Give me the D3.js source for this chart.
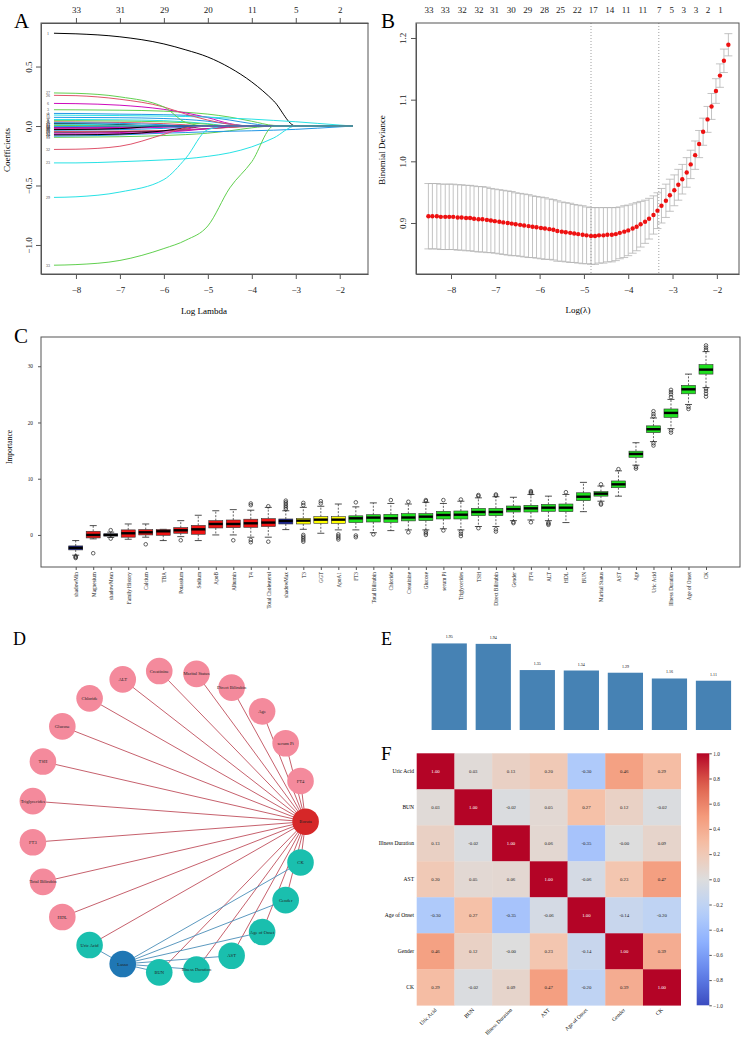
<!DOCTYPE html>
<html>
<head>
<meta charset="utf-8">
<script src="https://cdn.jsdelivr.net/npm/d3@7"></script>
<style>
  body { margin: 0; background: #fff; }
  svg { display: block; font-family: "Liberation Serif", "DejaVu Serif", serif; }
</style>
</head>
<body>
<svg id="fig" width="744" height="1039"></svg>
<script>
// ---------- A: lasso coefficient paths ----------
var pathLambda = [-8.5, -8, -7, -6, -5.5, -5, -4.5, -4, -3.5, -3, -2.5, -2, -1.7];
var pathVars = [1, 2, 3, 4, 5, 6, 7, 8, 9, 10, 11, 12, 13, 14, 15, 16, 17,
                18, 19, 20, 21, 22, 23, 24, 25, 26, 27, 28, 29, 30, 31, 32, 33, 34];
var pathCoefs = [
  [0.78, 0.775, 0.75, 0.69, 0.64, 0.58, 0.49, 0.37, 0.21, 0, 0, 0, 0],
  [0.035, 0.034, 0.03, 0.02, 0.01, 0, 0, 0, 0, 0, 0, 0, 0],
  [0.137, 0.136, 0.133, 0.125, 0.115, 0.10, 0.075, 0.04, 0.005, 0, 0, 0, 0],
  [0.106, 0.105, 0.10, 0.095, 0.09, 0.075, 0.05, 0.02, 0, 0, 0, 0, 0],
  [0.055, 0.055, 0.052, 0.045, 0.035, 0.02, 0, 0, 0, 0, 0, 0, 0],
  [0.19, 0.188, 0.175, 0.14, 0.11, 0.07, 0.02, 0, 0, 0, 0, 0, 0],
  [0.02, 0.019, 0.012, 0, 0, 0, 0, 0, 0, 0, 0, 0, 0],
  [-0.02, -0.019, -0.015, -0.006, 0, 0, 0, 0, 0, 0, 0, 0, 0],
  [0.045, 0.045, 0.042, 0.035, 0.028, 0.015, 0, 0, 0, 0, 0, 0, 0],
  [0.073, 0.072, 0.07, 0.063, 0.055, 0.04, 0.015, 0, 0, 0, 0, 0, 0],
  [0.092, 0.09, 0.088, 0.083, 0.08, 0.075, 0.066, 0.058, 0.047, 0.036, 0.022, 0.008, 0],
  [-0.06, -0.059, -0.055, -0.04, -0.025, 0, 0, 0, 0, 0, 0, 0, 0],
  [-0.01, -0.01, -0.004, 0, 0, 0, 0, 0, 0, 0, 0, 0, 0],
  [0.01, 0.009, 0, 0, 0, 0, 0, 0, 0, 0, 0, 0, 0],
  [-0.095, -0.094, -0.09, -0.08, -0.072, -0.06, -0.04, -0.015, 0, 0, 0, 0, 0],
  [-0.085, -0.083, -0.075, -0.06, -0.055, -0.048, -0.044, -0.04, -0.035, -0.028, -0.018, -0.007, 0],
  [0.015, 0.014, 0.008, 0, 0, 0, 0, 0, 0, 0, 0, 0, 0],
  [-0.015, -0.015, -0.012, -0.005, 0, 0, 0, 0, 0, 0, 0, 0, 0],
  [-0.05, -0.05, -0.047, -0.04, -0.033, -0.022, -0.01, 0, 0, 0, 0, 0, 0],
  [-0.045, -0.045, -0.043, -0.038, -0.032, -0.022, -0.012, -0.003, 0, 0, 0, 0, 0],
  [0.005, 0.004, 0, 0, 0, 0, 0, 0, 0, 0, 0, 0, 0],
  [-0.035, -0.034, -0.03, -0.02, -0.01, 0, 0, 0, 0, 0, 0, 0, 0],
  [-0.31, -0.31, -0.30, -0.285, -0.275, -0.255, -0.225, -0.175, -0.10, 0, 0, 0, 0],
  [-0.07, -0.069, -0.065, -0.052, -0.04, -0.022, -0.005, 0, 0, 0, 0, 0, 0],
  [-0.075, -0.074, -0.068, -0.04, -0.015, 0, 0, 0, 0, 0, 0, 0, 0],
  [0.258, 0.255, 0.225, 0.16, 0.10, 0.05, 0.015, 0, 0, 0, 0, 0, 0],
  [0.278, 0.275, 0.245, 0.16, 0.03, 0, 0, 0, 0, 0, 0, 0, 0],
  [0.028, 0.027, 0.022, 0.01, 0, 0, 0, 0, 0, 0, 0, 0, 0],
  [-0.60, -0.595, -0.555, -0.45, -0.27, -0.03, 0, 0, 0, 0, 0, 0, 0],
  [-0.025, -0.025, -0.02, -0.01, -0.004, 0, 0, 0, 0, 0, 0, 0, 0],
  [-0.03, -0.029, -0.022, 0, 0, 0, 0, 0, 0, 0, 0, 0, 0],
  [-0.197, -0.195, -0.17, -0.07, -0.015, 0, 0, 0, 0, 0, 0, 0, 0],
  [-1.17, -1.165, -1.13, -1.03, -0.96, -0.84, -0.52, -0.30, 0, 0, 0, 0, 0],
  [-0.005, -0.004, 0, 0, 0, 0, 0, 0, 0, 0, 0, 0, 0]
];
var dfTicks = [-8, -7, -6, -5, -4, -3, -2];
var dfLabels = [33, 31, 29, 20, 11, 5, 2];

// ---------- B: cross-validation curve ----------
var cvLambda = [-8.51, -8.42, -8.32, -8.23, -8.13, -8.04, -7.95, -7.85, -7.76, -7.66,
  -7.57, -7.48, -7.38, -7.29, -7.19, -7.10, -7.01, -6.91, -6.82, -6.72,
  -6.63, -6.54, -6.44, -6.35, -6.25, -6.16, -6.07, -5.97, -5.88, -5.78,
  -5.69, -5.60, -5.50, -5.41, -5.31, -5.22, -5.13, -5.03, -4.94, -4.84,
  -4.75, -4.66, -4.56, -4.47, -4.37, -4.28, -4.19, -4.09, -4.00, -3.90,
  -3.81, -3.72, -3.62, -3.53, -3.43, -3.34, -3.25, -3.15, -3.06, -2.96,
  -2.87, -2.78, -2.68, -2.59, -2.49, -2.40, -2.31, -2.21, -2.12, -2.02,
  -1.93, -1.84, -1.74];
var cvMean = [0.911, 0.911, 0.911, 0.910, 0.910, 0.910, 0.910, 0.909, 0.909, 0.908,
  0.908, 0.907, 0.906, 0.906, 0.905, 0.904, 0.903, 0.902, 0.901, 0.900,
  0.899, 0.898, 0.897, 0.896, 0.895, 0.894, 0.893, 0.892, 0.891, 0.890,
  0.889, 0.887, 0.886, 0.885, 0.884, 0.883, 0.882, 0.881, 0.880, 0.879,
  0.879, 0.880, 0.880, 0.881, 0.881, 0.882, 0.884, 0.886, 0.888, 0.891,
  0.894, 0.898, 0.902, 0.907, 0.913, 0.920, 0.928, 0.936, 0.945, 0.953,
  0.962, 0.971, 0.982, 0.995, 1.010, 1.028, 1.048, 1.068, 1.089, 1.114,
  1.139, 1.163, 1.189];
var cvSd = [0.053, 0.053, 0.053, 0.053, 0.053, 0.053, 0.053, 0.053, 0.053, 0.053,
  0.053, 0.053, 0.053, 0.053, 0.053, 0.052, 0.052, 0.052, 0.052, 0.052,
  0.052, 0.051, 0.051, 0.051, 0.051, 0.050, 0.050, 0.050, 0.050, 0.049,
  0.049, 0.049, 0.048, 0.048, 0.048, 0.047, 0.047, 0.047, 0.046, 0.046,
  0.046, 0.045, 0.045, 0.044, 0.044, 0.043, 0.042, 0.042, 0.041, 0.040,
  0.039, 0.037, 0.035, 0.033, 0.031, 0.029, 0.028, 0.027, 0.026, 0.025,
  0.025, 0.024, 0.024, 0.023, 0.023, 0.022, 0.022, 0.021, 0.021, 0.020,
  0.019, 0.019, 0.018];
var nzeroAt = [-8.51, -8.14, -7.76, -7.38, -7.03, -6.65, -6.28, -5.90, -5.54, -5.16,
  -4.80, -4.43, -4.06, -3.68, -3.31, -3.03, -2.76, -2.48, -2.21, -1.93];
var nzeroLabels = [33, 33, 32, 32, 31, 30, 29, 28, 25, 22, 17, 14, 11, 11, 7, 5, 3, 3, 2, 1];
var lambdaMin = -4.84;
var lambda1se = -3.31;

// ---------- C: Boruta importance ----------
var impNames = ['shadowMin', 'Magnesium', 'shadowMean', 'Family History', 'Calcium', 'TBA',
  'Potassium', 'Sodium', 'ApoB', 'Albumin', 'T4', 'Total Cholesterol', 'shadowMax', 'T3',
  'GGT', 'ApoA1', 'FT3', 'Total Bilirubin', 'Chloride', 'Creatinine', 'Glucose', 'serum Pi',
  'Triglycerides', 'TSH', 'Direct Bilirubin', 'Gender', 'FT4', 'ALT', 'HDL', 'BUN',
  'Marital Status', 'AST', 'Age', 'Uric Acid', 'Illness Duration', 'Age of Onset', 'CK'];
var impDecision = ['Shadow', 'Rejected', 'Shadow', 'Rejected', 'Rejected', 'Rejected',
  'Rejected', 'Rejected', 'Rejected', 'Rejected', 'Rejected', 'Rejected', 'Shadow', 'Tentative',
  'Tentative', 'Tentative', 'Confirmed', 'Confirmed', 'Confirmed', 'Confirmed', 'Confirmed',
  'Confirmed', 'Confirmed', 'Confirmed', 'Confirmed', 'Confirmed', 'Confirmed', 'Confirmed',
  'Confirmed', 'Confirmed', 'Confirmed', 'Confirmed', 'Confirmed', 'Confirmed', 'Confirmed',
  'Confirmed', 'Confirmed'];
var impQ1 = [-2.66, -0.53, -0.2, -0.4, 0.0, -0.06, 0.3, 0.12, 1.24, 1.3, 1.36, 1.5, 1.95, 1.95,
  2.07, 2.07, 2.2, 2.3, 2.25, 2.5, 2.54, 2.84, 2.84, 3.43, 3.43, 4.08, 4.08, 4.2, 4.14, 6.1,
  6.9, 8.4, 13.8, 18.2, 20.9, 25.1, 28.6];
var impMedian = [-2.3, 0.0, 0.0, 0.3, 0.47, 0.65, 0.83, 1.0, 1.95, 1.95, 2.07, 2.2, 2.48, 2.54,
  2.72, 2.72, 2.96, 3.08, 2.96, 3.1, 3.25, 3.55, 3.6, 4.08, 4.08, 4.6, 4.73, 4.85, 4.85, 6.8,
  7.34, 9.0, 14.4, 18.8, 21.7, 25.9, 29.4];
var impQ3 = [-1.95, 0.65, 0.2, 0.9, 0.95, 0.95, 1.3, 1.7, 2.54, 2.66, 2.8, 2.9, 2.84, 2.96,
  3.25, 3.25, 3.4, 3.6, 3.67, 3.8, 3.8, 4.2, 4.26, 4.73, 4.73, 5.15, 5.27, 5.44, 5.5, 7.5,
  7.7, 9.6, 14.9, 19.4, 22.4, 26.6, 30.3];
var impLo = [-3.6, -0.7, -0.45, -0.77, -0.4, -1.0, -0.3, -1.0, 0.0, 0.0, -0.4, -0.4, 0.95, 1.0,
  0.3, 0.9, 0.9, 0.4, 0.77, 0.9, 0.9, 1.1, 0.9, 1.5, 1.5, 2.54, 2.66, 2.54, 2.2, 4.14,
  6.0, 6.9, 12.4, 16.6, 18.9, 23.2, 26.2];
var impHi = [-1.0, 1.66, 0.5, 1.95, 1.95, 1.0, 2.54, 3.5, 4.3, 4.5, 4.4, 4.9, 4.3, 4.9,
  5.1, 5.5, 5.0, 5.7, 5.6, 5.5, 5.8, 5.6, 6.0, 6.6, 6.8, 6.7, 7.2, 6.9, 7.2, 9.35,
  8.7, 11.4, 16.4, 20.8, 24.1, 28.6, 32.6];
var impOutliers = [
  [-3.8, -3.95, -4.1], [-3.25], [0.85, -0.65], [], [-1.66], [], [-0.95], [], [], [-0.95],
  [5.3, 5.6, -0.9, -1.3], [5.1, -1.2], [4.6, 4.9, 5.2, 5.5, 5.8, 6.1],
  [5.3, 5.7, 0.0, -0.3, -0.6, -0.9, -1.2], [5.6, 6.0], [0.1, -0.2, -0.5, -0.8],
  [5.8, -0.1, -0.4], [0.1], [6.2], [5.9, 0.47], [6.2, 6.0, 0.6, 0.3, 0.0], [6.2, 0.8],
  [6.3, 0.6, 0.2, -0.2], [6.9, 7.1, 1.2], [7.0, 7.2, 1.0, 0.6], [2.3, 2.1],
  [7.4, 7.6, 7.8, 2.25], [2.2, 2.0, 1.8], [7.6], [], [9.0, 5.6, 5.4], [11.7], [12.1, 11.8],
  [21.1, 21.5, 22.0, 16.3, 15.9], [24.5, 25.0, 25.4, 25.8, 18.6, 18.2], [22.8, 22.4],
  [32.9, 33.3, 33.7, 26.0, 25.6, 25.1, 24.6]
];

// ---------- D: feature network ----------
var netNodes = ['Boruta', 'FT4', 'serum Pi', 'Age', 'Direct Bilirubin', 'Marital Status',
  'Creatinine', 'ALT', 'Chloride', 'Glucose', 'TSH', 'Triglycerides', 'FT3', 'Total Bilirubin',
  'HDL', 'Uric Acid', 'Lasso', 'BUN', 'Illness Duration', 'AST', 'Age of Onset', 'Gender', 'CK'];
var lassoFeatures = ['CK', 'Gender', 'Age of Onset', 'AST', 'Illness Duration', 'BUN', 'Uric Acid'];

// ---------- E: bar values ----------
var barValues = [1.95, 1.94, 1.35, 1.34, 1.29, 1.16, 1.11];

// ---------- F: correlation heatmap ----------
var corrNames = ['Uric Acid', 'BUN', 'Illness Duration', 'AST', 'Age of Onset', 'Gender', 'CK'];
var corrMatrix = [
  [1.00, 0.03, 0.13, 0.20, -0.30, 0.46, 0.29],
  [0.03, 1.00, -0.02, 0.05, 0.27, 0.12, -0.02],
  [0.13, -0.02, 1.00, 0.06, -0.35, -0.003, 0.09],
  [0.20, 0.05, 0.06, 1.00, -0.06, 0.23, 0.47],
  [-0.30, 0.27, -0.35, -0.06, 1.00, -0.14, -0.20],
  [0.46, 0.12, -0.003, 0.23, -0.14, 1.00, 0.39],
  [0.29, -0.02, 0.09, 0.47, -0.20, 0.39, 1.00]
];
var cbTicks = [-1.0, -0.8, -0.6, -0.4, -0.2, 0.0, 0.2, 0.4, 0.6, 0.8, 1.0];

// ================= drawing =================
var svg = d3.select('#fig');
var rPalette = ['#000000', '#DF536B', '#61D04F', '#2297E6', '#28E2E5', '#CD0BBC'];

function panelLetter(x, y, size, t) {
    svg.append('text').attr('x', x).attr('y', y).attr('font-size', size).text(t);
}

function frame(x0, y0, x1, y1) {
    svg.append('rect').attr('x', x0).attr('y', y0)
        .attr('width', x1 - x0).attr('height', y1 - y0)
        .attr('fill', 'none').attr('stroke', '#555').attr('stroke-width', 1);
}

function styleAxis(g, size) {
    g.attr('font-family', null).attr('font-size', size);
    g.select('.domain').attr('stroke', '#555');
    g.selectAll('.tick line').attr('stroke', '#555');
    g.selectAll('.tick text').attr('fill', '#222');
}

// rotate y tick labels like R (parallel to axis)
function rotateYLabels(g, off) {
    g.selectAll('.tick text')
        .attr('transform', 'rotate(-90)')
        .attr('x', 0).attr('y', -off).attr('dy', 0)
        .attr('text-anchor', 'middle');
}

// ---- panel A ----
var xA = d3.scaleLinear().domain([-8.795, -1.357]).range([41, 368]);
var yA = d3.scaleLinear().domain([-1.244, 0.866]).range([274, 23]);
var lineA = d3.line()
    .x(function (d) { return xA(d[0]); })
    .y(function (d) { return yA(d[1]); })
    .curve(d3.curveMonotoneX);

var gA = svg.append('g');
pathCoefs.forEach(function (vals, i) {
    gA.append('path')
        .datum(pathLambda.map(function (l, j) { return [l, vals[j]]; }))
        .attr('d', lineA)
        .attr('fill', 'none')
        .attr('stroke', rPalette[(pathVars[i] - 1) % 6])
        .attr('stroke-width', 1);
});
gA.selectAll('text.varlab')
    .data(pathVars)
    .enter().append('text')
    .attr('class', 'varlab')
    .attr('x', xA(pathLambda[0]) - 6)
    .attr('y', function (d, i) { return yA(pathCoefs[i][0]); })
    .attr('dy', '0.35em')
    .attr('text-anchor', 'middle')
    .attr('font-size', 4)
    .attr('fill', '#444')
    .text(function (d) { return d; });

frame(41, 23, 368, 274);
var axA1 = svg.append('g').attr('transform', 'translate(0,274)')
    .call(d3.axisBottom(xA).tickValues(dfTicks).tickSize(5).tickSizeOuter(0).tickPadding(8));
styleAxis(axA1, 9);
var axA2 = svg.append('g').attr('transform', 'translate(41,0)')
    .call(d3.axisLeft(yA).tickValues([-1, -0.5, 0, 0.5]).tickFormat(d3.format('.1f')).tickSize(5).tickSizeOuter(0));
styleAxis(axA2, 9);
rotateYLabels(axA2, 9.5);
var axA3 = svg.append('g').attr('transform', 'translate(0,23)')
    .call(d3.axisTop(xA).tickValues(dfTicks).tickSize(5).tickSizeOuter(0).tickPadding(5)
        .tickFormat(function (d, i) { return dfLabels[i]; }));
styleAxis(axA3, 9);
svg.append('text').attr('x', 204).attr('y', 314).attr('text-anchor', 'middle')
    .attr('font-size', 9).text('Log Lambda');
svg.append('text').attr('transform', 'translate(10,150) rotate(-90)')
    .attr('text-anchor', 'middle').attr('font-size', 9).text('Coefficients');
panelLetter(14, 28, 21, 'A');

// ---- panel B ----
var xB = d3.scaleLinear().domain([-8.79, -1.50]).range([416, 739]);
var yB = d3.scaleLinear().domain([0.8173, 1.2243]).range([274, 23]);
var gB = svg.append('g');
var capW = 4;
cvLambda.forEach(function (l, i) {
    var x = xB(l), up = yB(cvMean[i] + cvSd[i]), lo = yB(cvMean[i] - cvSd[i]);
    gB.append('line').attr('x1', x).attr('x2', x).attr('y1', up).attr('y2', lo)
        .attr('stroke', '#b4b4b4').attr('stroke-width', 0.8);
    gB.append('line').attr('x1', x - capW).attr('x2', x + capW).attr('y1', up).attr('y2', up)
        .attr('stroke', '#b4b4b4').attr('stroke-width', 0.8);
    gB.append('line').attr('x1', x - capW).attr('x2', x + capW).attr('y1', lo).attr('y2', lo)
        .attr('stroke', '#b4b4b4').attr('stroke-width', 0.8);
});
[lambdaMin, lambda1se].forEach(function (l) {
    gB.append('line').attr('x1', xB(l)).attr('x2', xB(l)).attr('y1', 23).attr('y2', 274)
        .attr('stroke', '#888').attr('stroke-width', 0.8).attr('stroke-dasharray', '1,2');
});
gB.selectAll('circle')
    .data(cvMean)
    .enter().append('circle')
    .attr('cx', function (d, i) { return xB(cvLambda[i]); })
    .attr('cy', function (d) { return yB(d); })
    .attr('r', 2.2)
    .attr('fill', '#ee1111');
frame(416, 23, 739, 274);
var axB1 = svg.append('g').attr('transform', 'translate(0,274)')
    .call(d3.axisBottom(xB).tickValues([-8, -7, -6, -5, -4, -3, -2]).tickSize(5).tickSizeOuter(0).tickPadding(8));
styleAxis(axB1, 9);
var axB2 = svg.append('g').attr('transform', 'translate(416,0)')
    .call(d3.axisLeft(yB).tickValues([0.9, 1.0, 1.1, 1.2]).tickFormat(d3.format('.1f')).tickSize(5).tickSizeOuter(0));
styleAxis(axB2, 9);
rotateYLabels(axB2, 10);
var axB3 = svg.append('g').attr('transform', 'translate(0,23)')
    .call(d3.axisTop(xB).tickValues(nzeroAt).tickSize(0).tickPadding(10.5)
        .tickFormat(function (d, i) { return nzeroLabels[i]; }));
styleAxis(axB3, 9);
axB3.select('.domain').remove();
svg.append('text').attr('x', 578).attr('y', 313).attr('text-anchor', 'middle')
    .attr('font-size', 9).text('Log(\u03bb)');
svg.append('text').attr('transform', 'translate(385,150) rotate(-90)')
    .attr('text-anchor', 'middle').attr('font-size', 9).text('Binomial Deviance');
panelLetter(381, 28, 21, 'B');

// ---- panel C ----
var xC = d3.scalePoint().domain(impNames).range([75.7, 706]);
var yC = d3.scaleLinear().domain([-5.7, 35.2]).range([567, 337]);
var decisionColor = d3.scaleOrdinal()
    .domain(['Shadow', 'Rejected', 'Tentative', 'Confirmed'])
    .range(['#1f2aa6', '#f01414', '#ffff00', '#1fe01f']);
var boxW = 14;
var gC = svg.append('g');
impNames.forEach(function (name, i) {
    var cx = xC(name);
    var g = gC.append('g');
    // whiskers
    g.append('line').attr('x1', cx).attr('x2', cx).attr('y1', yC(impQ3[i])).attr('y2', yC(impHi[i]))
        .attr('stroke', '#222').attr('stroke-width', 0.7).attr('stroke-dasharray', '2,1.5');
    g.append('line').attr('x1', cx).attr('x2', cx).attr('y1', yC(impQ1[i])).attr('y2', yC(impLo[i]))
        .attr('stroke', '#222').attr('stroke-width', 0.7).attr('stroke-dasharray', '2,1.5');
    [impHi[i], impLo[i]].forEach(function (v) {
        g.append('line').attr('x1', cx - boxW / 4).attr('x2', cx + boxW / 4)
            .attr('y1', yC(v)).attr('y2', yC(v)).attr('stroke', '#222').attr('stroke-width', 0.8);
    });
    g.append('rect')
        .attr('x', cx - boxW / 2).attr('width', boxW)
        .attr('y', yC(impQ3[i])).attr('height', yC(impQ1[i]) - yC(impQ3[i]))
        .attr('fill', decisionColor(impDecision[i]))
        .attr('stroke', '#333').attr('stroke-width', 0.6);
    g.append('line').attr('x1', cx - boxW / 2).attr('x2', cx + boxW / 2)
        .attr('y1', yC(impMedian[i])).attr('y2', yC(impMedian[i]))
        .attr('stroke', '#000').attr('stroke-width', 2.4);
    g.selectAll('circle').data(impOutliers[i]).enter().append('circle')
        .attr('cx', cx).attr('cy', function (d) { return yC(d); })
        .attr('r', 1.8).attr('fill', 'none').attr('stroke', '#222').attr('stroke-width', 0.7);
});
frame(41, 337, 740, 567);
var axC1 = svg.append('g').attr('transform', 'translate(0,567)')
    .call(d3.axisBottom(xC).tickSize(3).tickSizeOuter(0));
styleAxis(axC1, 5.3);
axC1.select('.domain').remove();
axC1.selectAll('.tick text')
    .attr('transform', 'rotate(-90)')
    .attr('x', -5).attr('y', 0).attr('dy', '0.35em')
    .attr('text-anchor', 'end');
var axC2 = svg.append('g').attr('transform', 'translate(41,0)')
    .call(d3.axisLeft(yC).tickValues([0, 10, 20, 30]).tickSize(3).tickSizeOuter(0).tickPadding(5));
styleAxis(axC2, 5.3);
axC2.select('.domain').remove();
svg.append('text').attr('transform', 'translate(12,447) rotate(-90)')
    .attr('text-anchor', 'middle').attr('font-size', 7.5).text('Importance');
panelLetter(14, 343, 21, 'C');

// ---- panel D ----
var cxD = 168.6, cyD = 821.7, rxD = 137, ryD = 151, nodeR = 13.3;
var angle = d3.scaleLinear().domain([0, netNodes.length]).range([0, 2 * Math.PI]);
var nodePos = {};
netNodes.forEach(function (n, i) {
    nodePos[n] = [cxD + rxD * Math.cos(angle(i)), cyD - ryD * Math.sin(angle(i))];
});
var gD = svg.append('g');
netNodes.forEach(function (n) {
    if (n === 'Boruta' || n === 'Lasso') return;
    gD.append('line')
        .attr('x1', nodePos.Boruta[0]).attr('y1', nodePos.Boruta[1])
        .attr('x2', nodePos[n][0]).attr('y2', nodePos[n][1])
        .attr('stroke', '#bf4f5c').attr('stroke-width', 0.9);
});
lassoFeatures.forEach(function (n) {
    gD.append('line')
        .attr('x1', nodePos.Lasso[0]).attr('y1', nodePos.Lasso[1])
        .attr('x2', nodePos[n][0]).attr('y2', nodePos[n][1])
        .attr('stroke', '#4a8db8').attr('stroke-width', 0.9);
});
function nodeColor(n) {
    if (n === 'Boruta') return '#d62728';
    if (n === 'Lasso') return '#1f77b4';
    return lassoFeatures.indexOf(n) >= 0 ? '#1abfae' : '#f48a9c';
}
var nodes = gD.selectAll('g.node').data(netNodes).enter().append('g')
    .attr('class', 'node')
    .attr('transform', function (d) { return 'translate(' + nodePos[d][0] + ',' + nodePos[d][1] + ')'; });
nodes.append('circle').attr('r', nodeR).attr('fill', nodeColor);
nodes.append('text').attr('text-anchor', 'middle').attr('dy', '0.35em')
    .attr('font-size', 4.6).attr('fill', '#222').text(function (d) { return d; });
panelLetter(13, 645, 18, 'D');

// ---- panel E ----
var xE = d3.scaleBand().domain(d3.range(barValues.length))
    .range([427.2, 735.5]).paddingInner(0.2).paddingOuter(0.1);
var yE = d3.scaleLinear().domain([0, 2]).range([730, 730 - 88.8]);
var gE = svg.append('g');
gE.selectAll('rect').data(barValues).enter().append('rect')
    .attr('x', function (d, i) { return xE(i); })
    .attr('width', xE.bandwidth())
    .attr('y', function (d) { return yE(d); })
    .attr('height', function (d) { return yE(0) - yE(d); })
    .attr('fill', '#4682b4');
gE.selectAll('text').data(barValues).enter().append('text')
    .attr('x', function (d, i) { return xE(i) + xE.bandwidth() / 2; })
    .attr('y', function (d) { return yE(d) - 5; })
    .attr('text-anchor', 'middle').attr('font-size', 4)
    .text(function (d) { return d.toFixed(2); });
panelLetter(381, 645, 18, 'E');

// ---- panel F ----
var coolwarm = d3.scaleLinear()
    .domain([-1, -0.75, -0.5, -0.25, 0, 0.25, 0.5, 0.75, 1])
    .range(['#3b4cc0', '#6282ea', '#8db0fe', '#b8d0f9', '#dddddd', '#f5c4ac', '#f49a7b', '#de604d', '#b40426'])
    .interpolate(d3.interpolateRgb);
var xF = d3.scaleBand().domain(corrNames).range([416.7, 680.7]);
var yF = d3.scaleBand().domain(corrNames).range([753.3, 1005.3]);
var gF = svg.append('g');
corrMatrix.forEach(function (row, i) {
    row.forEach(function (v, j) {
        var c = coolwarm(v);
        gF.append('rect')
            .attr('x', xF(corrNames[j])).attr('y', yF(corrNames[i]))
            .attr('width', xF.bandwidth() + 0.3).attr('height', yF.bandwidth() + 0.3)
            .attr('fill', c);
        gF.append('text')
            .attr('x', xF(corrNames[j]) + xF.bandwidth() / 2)
            .attr('y', yF(corrNames[i]) + yF.bandwidth() / 2)
            .attr('dy', '0.35em').attr('text-anchor', 'middle').attr('font-size', 4.8)
            .attr('fill', d3.lab(c).l < 50 ? '#fff' : '#222')
            .text(v.toFixed(2));
    });
});
gF.selectAll('text.rowlab').data(corrNames).enter().append('text')
    .attr('x', 414).attr('y', function (d) { return yF(d) + yF.bandwidth() / 2; })
    .attr('dy', '0.35em').attr('text-anchor', 'end').attr('font-size', 5.5)
    .text(function (d) { return d; });
gF.selectAll('text.collab').data(corrNames).enter().append('text')
    .attr('transform', function (d) {
        return 'translate(' + (xF(d) + xF.bandwidth() / 2) + ',1009) rotate(-45)';
    })
    .attr('text-anchor', 'end').attr('dy', '0.35em').attr('font-size', 5.5)
    .text(function (d) { return d; });

// colour bar
var yCb = d3.scaleLinear().domain([-1, 1]).range([1005.3, 753.3]);
var grad = svg.append('defs').append('linearGradient').attr('id', 'cbGrad')
    .attr('x1', 0).attr('y1', 1).attr('x2', 0).attr('y2', 0);
d3.range(0, 1.0001, 0.05).forEach(function (t) {
    grad.append('stop').attr('offset', t).attr('stop-color', coolwarm(t * 2 - 1));
});
svg.append('rect').attr('x', 696.7).attr('y', 753.3).attr('width', 12.6).attr('height', 252)
    .attr('fill', 'url(#cbGrad)');
var axCb = svg.append('g').attr('transform', 'translate(709.3,0)')
    .call(d3.axisRight(yCb).tickValues(cbTicks).tickFormat(d3.format('.1f')).tickSize(2.5).tickPadding(1.5));
styleAxis(axCb, 5.3);
axCb.select('.domain').remove();
panelLetter(381, 760, 19, 'F');
</script>
</body>
</html>
